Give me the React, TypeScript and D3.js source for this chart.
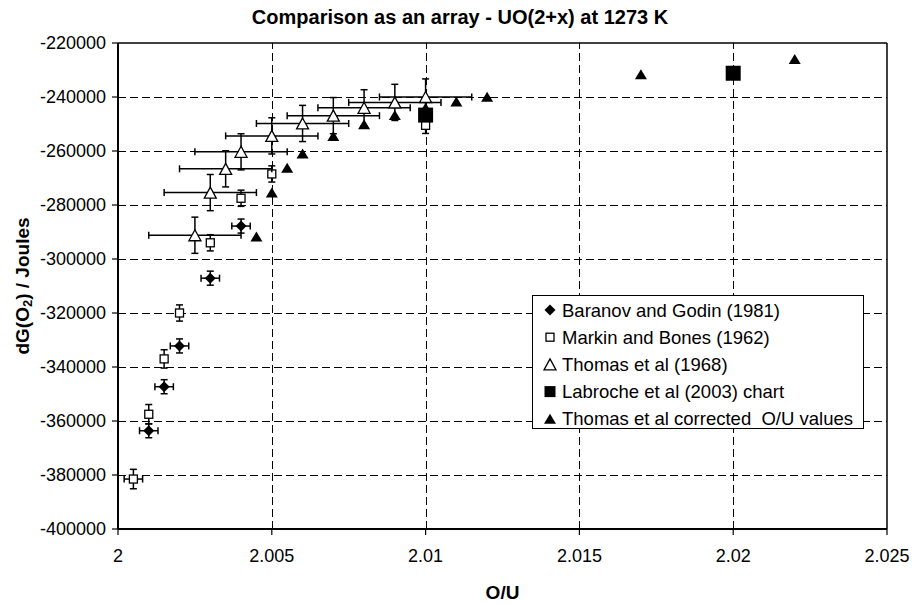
import React from "react";
import * as d3 from "d3";

const W = 913;
const H = 604;

const xTicks = [2, 2.005, 2.01, 2.015, 2.02, 2.025];
const xTickLabels = ["2", "2.005", "2.01", "2.015", "2.02", "2.025"];
const yTicks = [-400000, -380000, -360000, -340000, -320000, -300000, -280000, -260000, -240000, -220000];

// Baranov and Godin (1981)
const baranovX = [2.001, 2.0015, 2.002, 2.003, 2.004];
const baranovY = [-363600, -347300, -332200, -307100, -287800];
const baranovXErr = [0.0003, 0.0003, 0.0003, 0.0003, 0.0003];
const baranovYErr = [2600, 2600, 2600, 2600, 2600];

// Markin and Bones (1962)
const markinX = [2.0005, 2.001, 2.0015, 2.002, 2.003, 2.004, 2.005, 2.01];
const markinY = [-381500, -357500, -337000, -320000, -294000, -277500, -268500, -250500];
const markinXErr = [0.0003, 0, 0, 0, 0, 0, 0, 0];
const markinYErr = [3600, 3600, 3400, 3000, 3000, 3000, 3000, 3000];

// Thomas et al (1968)
const thomasX = [2.0025, 2.003, 2.0035, 2.004, 2.005, 2.006, 2.007, 2.008, 2.009, 2.01];
const thomasY = [-291200, -275400, -266600, -260300, -254400, -249800, -246900, -244000, -242000, -240000];
const thomasXErr = [0.0015, 0.0015, 0.0015, 0.0015, 0.0015, 0.0015, 0.0015, 0.0015, 0.0015, 0.0015];
const thomasYErr = [6700, 6700, 6700, 6700, 6700, 6700, 6700, 6700, 6700, 6700];

// Labroche et al (2003) chart
const labrocheX = [2.01, 2.02];
const labrocheY = [-246700, -231200];

// Thomas et al corrected O/U values
const corrX = [2.0045, 2.005, 2.0055, 2.006, 2.007, 2.008, 2.009, 2.01, 2.011, 2.012, 2.017, 2.022];
const corrY = [-291700, -275400, -266200, -260900, -254400, -250100, -246700, -244000, -241700, -239900, -231600, -225900];

const legendLabels = [
  "Baranov and Godin (1981)",
  "Markin and Bones (1962)",
  "Thomas et al (1968)",
  "Labroche et al (2003) chart",
  "Thomas et al corrected  O/U values",
];

const FONT = "'Liberation Sans', Arial, Helvetica, sans-serif";

type MarkerKind = "diamond" | "openSquare" | "openTriangle" | "filledSquare" | "filledTriangle";

function Marker({ kind, cx, cy, legend = false }: { kind: MarkerKind; cx: number; cy: number; legend?: boolean }) {
  if (kind === "diamond") {
    const r = 5.5;
    return <path d={`M${cx},${cy - r}L${cx + r},${cy}L${cx},${cy + r}L${cx - r},${cy}Z`} fill="#000" />;
  }
  if (kind === "openSquare") {
    const s = 4;
    return <rect x={cx - s} y={cy - s} width={2 * s} height={2 * s} fill="#fff" stroke="#000" strokeWidth={1.3} />;
  }
  if (kind === "openTriangle") {
    const hw = 6, hh = 5.5;
    return <path d={`M${cx},${cy - hh}L${cx + hw},${cy + hh}L${cx - hw},${cy + hh}Z`} fill="#fff" stroke="#000" strokeWidth={1.3} />;
  }
  if (kind === "filledSquare") {
    const s = legend ? 5.5 : 7.5;
    return <rect x={cx - s} y={cy - s} width={2 * s} height={2 * s} fill="#000" />;
  }
  const hw = 6, hh = 5;
  return <path d={`M${cx},${cy - hh}L${cx + hw},${cy + hh}L${cx - hw},${cy + hh}Z`} fill="#000" />;
}

const crisp = (v: number) => Math.round(v) + 0.5;

export default function App() {
  const x = d3.scaleLinear().domain([2, 2.025]).range([118, 887]);
  const y = d3.scaleLinear().domain([-400000, -220000]).range([529, 43]);
  const [x0, x1] = x.range();
  const [y0, y1] = y.range();
  const cap = 3.5;

  const errorBars = (xs: number[], ys: number[], xe: number[] | null, ye: number[] | null, key: string) =>
    xs.map((xv, i) => {
      const cx = x(xv);
      const cy = y(ys[i]);
      const parts: React.ReactNode[] = [];
      if (xe && xe[i] > 0) {
        const xa = x(xv - xe[i]);
        const xb = x(xv + xe[i]);
        parts.push(
          <g key={`${key}-x-${i}`}>
            <line x1={xa} x2={xb} y1={cy} y2={cy} />
            <line x1={xa} x2={xa} y1={cy - cap} y2={cy + cap} />
            <line x1={xb} x2={xb} y1={cy - cap} y2={cy + cap} />
          </g>
        );
      }
      if (ye && ye[i] > 0) {
        const ya = y(ys[i] - ye[i]);
        const yb = y(ys[i] + ye[i]);
        parts.push(
          <g key={`${key}-y-${i}`}>
            <line x1={cx} x2={cx} y1={ya} y2={yb} />
            <line x1={cx - cap} x2={cx + cap} y1={ya} y2={ya} />
            <line x1={cx - cap} x2={cx + cap} y1={yb} y2={yb} />
          </g>
        );
      }
      return parts;
    });

  const legendX = 532, legendY = 295, legendW = 331, legendH = 133;
  const legendKinds: MarkerKind[] = ["diamond", "openSquare", "openTriangle", "filledSquare", "filledTriangle"];

  return (
    <svg width={W} height={H} style={{ position: "absolute", left: 0, top: 0, background: "#fff" }} fontFamily={FONT}>
      <rect x={0} y={0} width={W} height={H} fill="#fff" />
      {/* grid */}
      <g stroke="#000" strokeWidth={1} strokeDasharray="8,4" shapeRendering="crispEdges">
        {yTicks.filter((t) => t !== -400000 && t !== -220000).map((t) => (
          <line key={`gy${t}`} x1={x0} x2={x1} y1={crisp(y(t))} y2={crisp(y(t))} />
        ))}
        {xTicks.filter((t) => t !== 2 && t !== 2.025).map((t) => (
          <line key={`gx${t}`} x1={crisp(x(t))} x2={crisp(x(t))} y1={y0} y2={y1} />
        ))}
      </g>

      {/* series */}
      <g stroke="#000" strokeWidth={1.5}>
        {errorBars(baranovX, baranovY, baranovXErr, baranovYErr, "b")}
      </g>
      {baranovX.map((v, i) => <Marker key={`bm${i}`} kind="diamond" cx={x(v)} cy={y(baranovY[i])} />)}

      <g stroke="#000" strokeWidth={1.5}>
        {errorBars(markinX, markinY, markinXErr, markinYErr, "m")}
      </g>
      {markinX.map((v, i) => <Marker key={`mm${i}`} kind="openSquare" cx={x(v)} cy={y(markinY[i])} />)}

      <g stroke="#000" strokeWidth={1.5}>
        {errorBars(thomasX, thomasY, thomasXErr, thomasYErr, "t")}
      </g>
      {thomasX.map((v, i) => <Marker key={`tm${i}`} kind="openTriangle" cx={x(v)} cy={y(thomasY[i])} />)}

      {labrocheX.map((v, i) => <Marker key={`lm${i}`} kind="filledSquare" cx={x(v)} cy={y(labrocheY[i])} />)}

      {corrX.map((v, i) => <Marker key={`cm${i}`} kind="filledTriangle" cx={x(v)} cy={y(corrY[i])} />)}

      {/* legend */}
      <rect x={legendX + 0.5} y={legendY + 0.5} width={legendW} height={legendH} fill="#fff" stroke="#000" strokeWidth={1} />
      {legendLabels.map((lab, i) => {
        const cy = 310 + i * 27.2;
        return (
          <g key={`lg${i}`}>
            <Marker kind={legendKinds[i]} cx={550} cy={cy} legend />
            <text x={562} y={cy} dominantBaseline="central" fontSize={18.5} fill="#000" style={{ whiteSpace: "pre" }}>{lab}</text>
          </g>
        );
      })}

      {/* frame */}
      <line x1={x0} x2={x1} y1={y1} y2={y1} stroke="#000" strokeWidth={1.5} />
      <line x1={x1} x2={x1} y1={y0} y2={y1} stroke="#000" strokeWidth={1.5} />
      <line x1={x0} x2={x1} y1={y0} y2={y0} stroke="#000" strokeWidth={2} />
      <line x1={x0} x2={x0} y1={y0} y2={y1} stroke="#000" strokeWidth={2} />

      {/* y axis ticks */}
      {yTicks.map((t) => (
        <g key={`yt${t}`}>
          <line x1={x0 - 6} x2={x0} y1={y(t)} y2={y(t)} stroke="#000" strokeWidth={1.2} />
          <text x={x0 - 12} y={y(t)} textAnchor="end" dominantBaseline="central" fontSize={18} fill="#000">{t}</text>
        </g>
      ))}
      {/* x axis ticks */}
      {xTicks.map((t, i) => (
        <g key={`xt${t}`}>
          <line x1={x(t)} x2={x(t)} y1={y0} y2={y0 + 6} stroke="#000" strokeWidth={1.2} />
          <text x={x(t)} y={556} textAnchor="middle" dominantBaseline="central" fontSize={18} fill="#000">{xTickLabels[i]}</text>
        </g>
      ))}

      {/* titles */}
      <text x={460} y={24} textAnchor="middle" fontSize={20} fontWeight="bold" fill="#000">Comparison as an array - UO(2+x) at 1273 K</text>
      <text x={(x0 + x1) / 2} y={592} textAnchor="middle" dominantBaseline="central" fontSize={19} fontWeight="bold" fill="#000">O/U</text>
      <text transform={`translate(22,${(y0 + y1) / 2}) rotate(-90)`} textAnchor="middle" dominantBaseline="central" fontSize={19} fontWeight="bold" fill="#000">
        dG(O<tspan fontSize={13} dy={5}>2</tspan><tspan dy={-5}>) / Joules</tspan>
      </text>
    </svg>
  );
}
